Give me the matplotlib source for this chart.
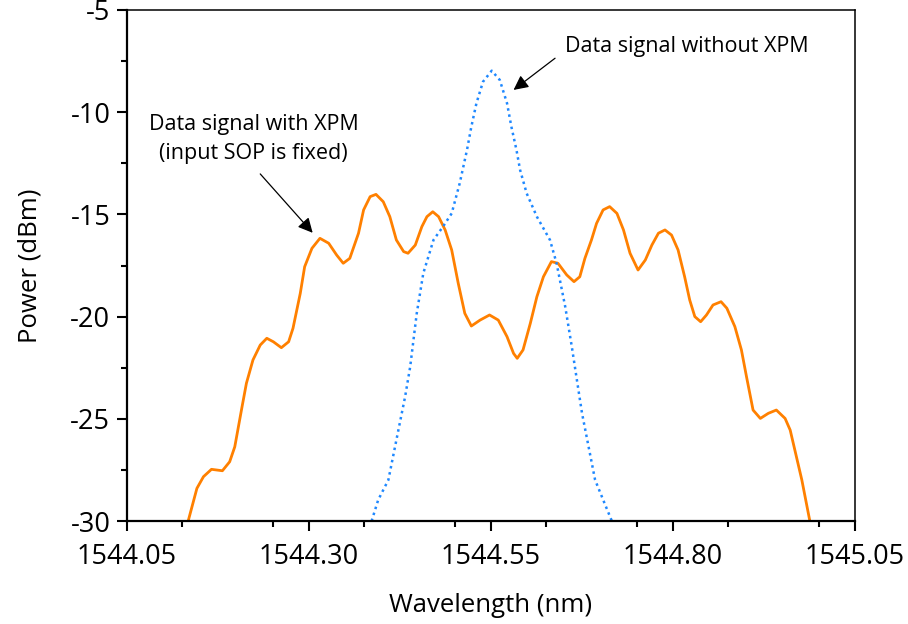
import matplotlib
matplotlib.use("Agg")
import matplotlib.pyplot as plt
from matplotlib.ticker import MultipleLocator, FixedLocator

# ---- data ----
xpm_wl = [1544.134, 1544.146, 1544.155, 1544.166, 1544.181, 1544.191, 1544.198, 1544.208,
          1544.214, 1544.223, 1544.233, 1544.242, 1544.251, 1544.262, 1544.272, 1544.278,
          1544.288, 1544.294, 1544.304, 1544.315, 1544.327, 1544.338, 1544.347, 1544.356,
          1544.368, 1544.375, 1544.384, 1544.392, 1544.402, 1544.411, 1544.420, 1544.430,
          1544.436, 1544.446, 1544.455, 1544.462, 1544.470, 1544.478, 1544.487, 1544.496,
          1544.505, 1544.514, 1544.523, 1544.535, 1544.548, 1544.560, 1544.572, 1544.581,
          1544.586, 1544.594, 1544.604, 1544.613, 1544.622, 1544.633, 1544.642, 1544.654,
          1544.664, 1544.672, 1544.679, 1544.688, 1544.695, 1544.704, 1544.713, 1544.723,
          1544.732, 1544.741, 1544.752, 1544.762, 1544.771, 1544.780, 1544.789, 1544.798,
          1544.807, 1544.816, 1544.823, 1544.830, 1544.838, 1544.846, 1544.855, 1544.866,
          1544.874, 1544.885, 1544.894, 1544.901, 1544.910, 1544.920, 1544.931, 1544.942,
          1544.954, 1544.961, 1544.977, 1544.988]
xpm_pw = [-30.00, -28.40, -27.83, -27.47, -27.54, -27.10, -26.37, -24.41,
          -23.26, -22.12, -21.39, -21.06, -21.23, -21.52, -21.23, -20.57,
          -18.86, -17.56, -16.66, -16.17, -16.41, -16.99, -17.39, -17.15,
          -15.92, -14.78, -14.13, -14.02, -14.38, -15.11, -16.25, -16.82,
          -16.90, -16.50, -15.60, -15.11, -14.87, -15.11, -15.76, -16.74,
          -18.37, -19.84, -20.46, -20.17, -19.92, -20.17, -20.98, -21.80,
          -22.04, -21.63, -20.33, -19.03, -18.05, -17.31, -17.39, -17.96,
          -18.29, -18.05, -17.15, -16.25, -15.44, -14.78, -14.62, -14.95,
          -15.76, -16.90, -17.72, -17.23, -16.50, -15.92, -15.76, -16.01,
          -16.74, -18.05, -19.19, -20.00, -20.25, -19.92, -19.43, -19.27,
          -19.59, -20.49, -21.63, -22.94, -24.57, -24.98, -24.73, -24.57,
          -24.98, -25.55, -27.99, -30.00]

noxpm_wl = [1544.386, 1544.395, 1544.409, 1544.420, 1544.432, 1544.439, 1544.448, 1544.457,
            1544.471, 1544.484, 1544.496, 1544.507, 1544.517, 1544.523, 1544.530, 1544.539,
            1544.551, 1544.562, 1544.572, 1544.578, 1544.585, 1544.590, 1544.599, 1544.613,
            1544.631, 1544.640, 1544.652, 1544.661, 1544.668, 1544.675, 1544.693, 1544.707,
            1544.716]
noxpm_pw = [-30.00, -28.97, -27.99, -26.04, -23.92, -22.45, -19.84, -17.88,
            -16.25, -15.60, -14.95, -13.48, -11.85, -10.71, -9.56, -8.51,
            -7.97, -8.42, -9.56, -10.71, -11.85, -12.83, -13.97, -15.11,
            -16.25, -17.38, -19.52, -21.47, -23.10, -24.72, -27.99, -29.22,
            -30.00]

x_ticks = [1544.05, 1544.30, 1544.55, 1544.80, 1545.05]
x_tick_labels = ["1544.05", "1544.30", "1544.55", "1544.80", "1545.05"]
y_ticks = [-30, -25, -20, -15, -10, -5]
y_tick_labels = ["-30", "-25", "-20", "-15", "-10", "-5"]

label_with = "Data signal with XPM\n(input SOP is fixed)"
label_without = "Data signal without XPM"

# ---- figure ----
plt.rcParams['font.family'] = ['Open Sans', 'DejaVu Sans']
plt.rcParams['axes.unicode_minus'] = False
fig = plt.figure(figsize=(9.08, 6.24), dpi=100)
ax = fig.add_axes([0.1399, 0.165, 0.8017, 0.819])

ax.plot(xpm_wl, xpm_pw, color='#FF8000', lw=2.0, solid_joinstyle='round',
        solid_capstyle='round')
ax.plot(noxpm_wl, noxpm_pw, color='#1E88FF', lw=1.8, linestyle=(0, (1, 1.5)))

ax.set_xlim(1544.05, 1545.05)
ax.set_ylim(-30, -5)
ax.xaxis.set_major_locator(FixedLocator(x_ticks))
ax.set_xticklabels(x_tick_labels)
ax.xaxis.set_minor_locator(MultipleLocator(0.125))
ax.yaxis.set_major_locator(FixedLocator(y_ticks))
ax.set_yticklabels(y_tick_labels)
ax.yaxis.set_minor_locator(MultipleLocator(2.5))

ax.tick_params(which='major', direction='out', length=7, width=1.5, labelsize=19.5, pad=5)
ax.tick_params(which='minor', direction='out', length=4, width=1.5)
ax.tick_params(axis='x', which='major', pad=9)
ax.tick_params(top=False, right=False, which='both')

for s in ['left', 'bottom']:
    ax.spines[s].set_linewidth(1.6)
for s in ['top', 'right']:
    ax.spines[s].set_linewidth(1.1)

ax.set_xlabel("Wavelength (nm)", fontsize=18.5, labelpad=16)
ax.set_ylabel("Power (dBm)", fontsize=18.5, labelpad=20)

arrow = dict(arrowstyle='-|>', mutation_scale=22, lw=0.9, color='black',
             shrinkA=0, shrinkB=0)
ax.annotate('', xy=(1544.305, -15.90), xytext=(1544.233, -13.02), arrowprops=arrow)
ax.text(1544.224, -11.31, label_with, ha='center', va='center', fontsize=15.5,
        linespacing=1.5)
ax.annotate('', xy=(1544.581, -8.91), xytext=(1544.638, -7.36), arrowprops=arrow)
ax.text(1544.652, -6.80, label_without, ha='left', va='center', fontsize=15.5)

fig.savefig("out.png", dpi=100)
